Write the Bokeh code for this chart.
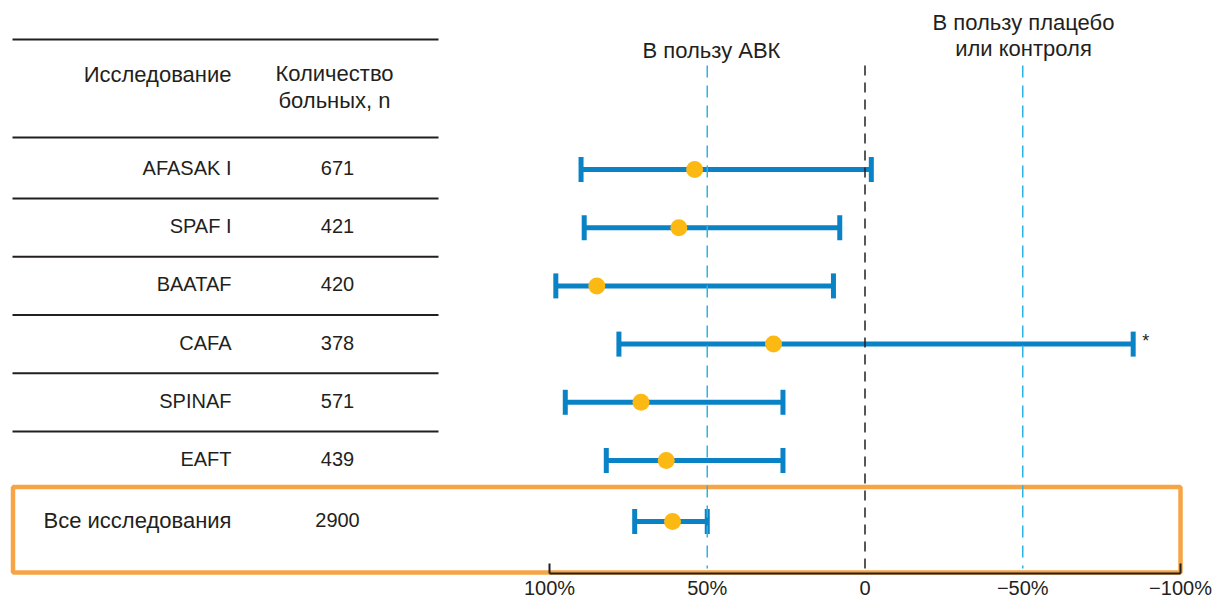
from bokeh.plotting import figure
from bokeh.models import Range1d, LinearAxis, FixedTicker, ColumnDataSource
from bokeh.core.properties import value
from bokeh.embed import file_html
from bokeh.resources import INLINE

# ---------------- data ----------------
studies = ["AFASAK I", "SPAF I", "BAATAF", "CAFA", "SPINAF", "EAFT"]
patients = [671, 421, 420, 378, 571, 439]
risk_reduction = [54, 59, 85, 29, 71, 63]      # point estimate, %
ci_upper = [90, 89, 98, 78, 95, 82]            # left end of CI, %
ci_lower = [-2, 8, 10, -85, 26, 26]            # right end of CI, %
flags = ["", "", "", "*", "", ""]

total_label = "Все исследования"
total_patients = 2900
total_reduction = 61
total_ci_upper = 73
total_ci_lower = 50

ref_lines = [50, 0, -50]
tick_values = [100, 50, 0, -50, -100]
tick_labels = ["100%", "50%", "0", "\u221250%", "\u2212100%"]

header_study = "Исследование"
header_n = ["Количество", "больных, n"]
favours_left = ["В пользу АВК"]
favours_right = ["В пользу плацебо", "или контроля"]

# ---------------- layout / style ----------------
W, H = 1212, 600
FONT = value("Liberation Sans")
TXT = "#231F20"
BLUE = "#0A82C6"
DOT = "#FDB913"
ORANGE = "#F6A546"
LBLUE = "#2DB3E6"

X_LEFT_PX, X_RIGHT_PX = 549, 1180       # where +100% and -100% sit
ppp = (X_RIGHT_PX - X_LEFT_PX) / 200.0
x_start = 100 + X_LEFT_PX / ppp
x_end = 100 - (W - X_LEFT_PX) / ppp

p = figure(width=W, height=H, output_backend="svg", toolbar_location=None,
           x_range=Range1d(x_start, x_end), y_range=Range1d(H, 0),
           x_axis_location=None, y_axis_location=None, min_border=0)
p.extra_x_ranges = {"px": Range1d(0, W)}
p.outline_line_color = None
p.xgrid.visible = False
p.ygrid.visible = False
p.background_fill_color = "white"
p.border_fill_color = "white"

row0, step = 169, 58.2
rows_y = [row0 + i * step for i in range(len(studies))]
total_y = 521
axis_y = 573

# table lines
line_y = [39, 137] + [(rows_y[i] + rows_y[i + 1]) / 2 for i in range(len(rows_y) - 1)]
p.segment(x0=[12] * len(line_y), x1=[438] * len(line_y), y0=line_y, y1=line_y,
          x_range_name="px", line_color=TXT, line_width=2)

# summary box
p.quad(left=[12.5], right=[1180], top=[486.5], bottom=[572], x_range_name="px",
       fill_color=None, line_color=ORANGE, line_width=4.5)

# headers
p.text(x=[231], y=[74], text=[header_study], x_range_name="px", text_align="right",
       text_baseline="middle", text_font=FONT, text_font_size="22px", text_color=TXT)
p.text(x=[334, 334], y=[73, 100], text=header_n, x_range_name="px", text_align="center",
       text_baseline="middle", text_font=FONT, text_font_size="22px", text_color=TXT)
p.text(x=[711], y=[50], text=favours_left, x_range_name="px", text_align="center",
       text_baseline="middle", text_font=FONT, text_font_size="22px", text_color=TXT)
p.text(x=[1023, 1023], y=[22, 48], text=favours_right, x_range_name="px", text_align="center",
       text_baseline="middle", text_font=FONT, text_font_size="22px", text_color=TXT)

# table rows
all_labels = studies + [total_label]
all_n = [str(v) for v in patients] + [str(total_patients)]
all_y = rows_y + [total_y]
label_sizes = ["20px"] * len(studies) + ["22px"]
p.text(x=[231] * len(all_labels), y=[v - 1.5 for v in all_y], text=all_labels, x_range_name="px",
       text_align="right", text_baseline="middle", text_font=FONT,
       text_font_size=label_sizes, text_color=TXT)
p.text(x=[337] * len(all_n), y=[v - 1.5 for v in all_y], text=all_n, x_range_name="px",
       text_align="center", text_baseline="middle", text_font=FONT, text_font_size="20px",
       text_color=TXT)

# forest plot
src = ColumnDataSource(dict(
    y=all_y,
    est=risk_reduction + [total_reduction],
    hi=ci_upper + [total_ci_upper],
    lo=ci_lower + [total_ci_lower],
    cap_top=[v - 12.5 for v in all_y],
    cap_bot=[v + 12.5 for v in all_y],
))
p.segment(x0="hi", x1="lo", y0="y", y1="y", source=src, line_color=BLUE, line_width=5)
p.segment(x0="hi", x1="hi", y0="cap_top", y1="cap_bot", source=src, line_color=BLUE, line_width=5)
p.segment(x0="lo", x1="lo", y0="cap_top", y1="cap_bot", source=src, line_color=BLUE, line_width=5)
p.scatter(x="est", y="y", source=src, size=17, fill_color=DOT, line_color=None)

# significance flag
flag_x = [ci_lower[i] for i in range(len(flags)) if flags[i]]
flag_y = [rows_y[i] for i in range(len(flags)) if flags[i]]
flag_t = [f for f in flags if f]
p.text(x=flag_x, y=[v - 3 for v in flag_y], text=flag_t, x_offset=9, text_align="left",
       text_baseline="middle", text_font=FONT, text_font_size="18px", text_color=TXT)

# reference dashed lines
p.segment(x0=[ref_lines[0], ref_lines[2]], x1=[ref_lines[0], ref_lines[2]], y0=[65, 65], y1=[568, 568],
          line_color=LBLUE, line_width=1.5, line_dash="12 8")
p.segment(x0=[ref_lines[1]], x1=[ref_lines[1]], y0=[65], y1=[572],
          line_color=TXT, line_width=1.5, line_dash="10 7")

# axis
ax = LinearAxis(ticker=FixedTicker(ticks=tick_values, minor_ticks=[tick_values[0], tick_values[-1]]),
                fixed_location=axis_y, bounds=(-100, 100))
ax.major_label_overrides = {v: t for v, t in zip(tick_values, tick_labels)}
ax.axis_line_color = TXT
ax.axis_line_width = 2
ax.major_tick_line_color = None
ax.minor_tick_line_color = TXT
ax.minor_tick_line_width = 2
ax.minor_tick_in = 10
ax.minor_tick_out = 0
ax.major_label_standoff = -3
ax.major_label_text_font = "Liberation Sans"
ax.major_label_text_font_size = "20px"
ax.major_label_text_color = TXT
p.add_layout(ax, "below")

open("out.html", "w").write(file_html(p, INLINE))
